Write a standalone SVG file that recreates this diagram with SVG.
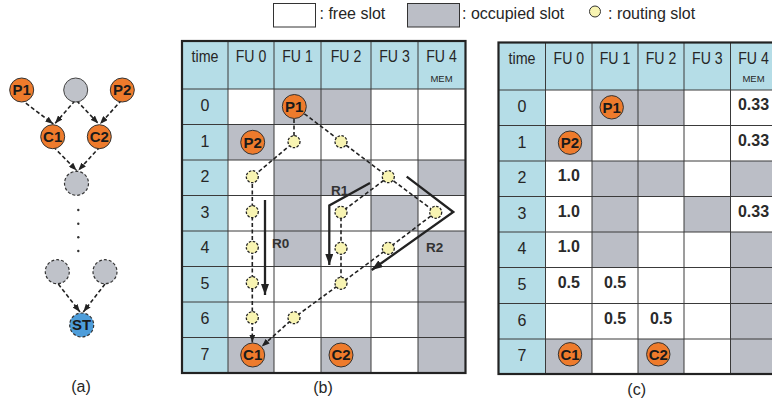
<svg xmlns="http://www.w3.org/2000/svg" width="772" height="406" viewBox="0 0 772 406">
<style>
text{font-family:"Liberation Sans",Arial,sans-serif;fill:#262626}
.hd{font-size:16px;text-anchor:middle}
.mem{font-size:9.5px;text-anchor:middle}
.val{font-size:16px;font-weight:bold;text-anchor:middle;fill:#2a2a2a}
.nl{font-size:15px;font-weight:bold;text-anchor:middle;fill:#1a1a1a}
.rl{font-size:13.5px;font-weight:bold;fill:#333}
.lg{font-size:16px}
.cap{font-size:16px;text-anchor:middle}
.blue{fill:#B5DDE7}
.occ{fill:#BBBEC6}
.grid{stroke:#3a3a3a;stroke-width:1;fill:none}
.border{stroke:#222;stroke-width:2.2;fill:none}
.or{fill:#EE7B2C;stroke:#333;stroke-width:1}
.gr{fill:#BFC2C9;stroke:#444;stroke-width:1}
.grd{fill:#BFC2C9;stroke:#333;stroke-width:1.2;stroke-dasharray:3 2}
.st{fill:#4D9DDA;stroke:#333;stroke-width:1.2;stroke-dasharray:3 2}
.rt{fill:#F8F4B2;stroke:#222;stroke-width:1.3;stroke-dasharray:2.5 1.5}
.dash{fill:none;stroke:#222;stroke-width:1.6;stroke-dasharray:4 2.5}
.rarrow{fill:none;stroke:#222;stroke-width:2.3}
</style>
<defs>
<marker id="ah" viewBox="0 0 8 6" refX="8" refY="3" markerWidth="8" markerHeight="6" markerUnits="userSpaceOnUse" orient="auto"><path d="M0,0 L8,3 L0,6 z" fill="#222"/></marker>
<marker id="ahb" viewBox="0 0 11 8" refX="11" refY="4" markerWidth="11" markerHeight="8" markerUnits="userSpaceOnUse" orient="auto"><path d="M0,0 L11,4 L0,8 z" fill="#222"/></marker>
</defs>
<rect width="772" height="406" fill="#fff"/>

<g id="legend">
<rect x="273.5" y="3.5" width="42" height="23.5" fill="#fff" stroke="#333" stroke-width="1"/>
<text class="lg" x="319.5" y="19">: free slot</text>
<rect x="407.5" y="3.5" width="52" height="23.5" class="occ" stroke="#333" stroke-width="1"/>
<text class="lg" x="462" y="19">: occupied slot</text>
<circle cx="595" cy="11.5" r="5.5" fill="#F8F4B2" stroke="#333" stroke-width="1"/>
<text class="lg" x="608" y="19">: routing slot</text>
</g>

<g id="table-b">
<rect x="182" y="41" width="283.5" height="332" fill="#fff"/>
<rect class="blue" x="182" y="41" width="283.5" height="48"/>
<rect class="blue" x="182" y="89" width="46" height="284"/>
<rect class="occ" x="274" y="89" width="97" height="35.5"/>
<rect class="occ" x="228" y="124.5" width="46" height="35.5"/>
<rect class="occ" x="274" y="160" width="47" height="106.5"/>
<rect class="occ" x="321" y="160" width="50" height="35.5"/>
<rect class="occ" x="418" y="160" width="47.5" height="35.5"/>
<rect class="occ" x="371" y="195.5" width="47" height="35.5"/>
<rect class="occ" x="418" y="231" width="47.5" height="142"/>
<rect class="occ" x="228" y="337.5" width="46" height="35.5"/>
<rect class="occ" x="321" y="337.5" width="50" height="35.5"/>
<path class="grid" d="M228,41V373 M274,41V373 M321,41V373 M371,41V373 M418,41V373 M182,89H465.5 M182,124.5H465.5 M182,160H465.5 M182,195.5H465.5 M182,231H465.5 M182,266.5H465.5 M182,302H465.5 M182,337.5H465.5"/>
<rect class="border" x="182" y="41" width="283.5" height="332"/>
<text class="hd" x="205" y="62" textLength="27" lengthAdjust="spacingAndGlyphs">time</text>
<text class="hd" x="251" y="62" textLength="30.5" lengthAdjust="spacingAndGlyphs">FU 0</text>
<text class="hd" x="297.5" y="62" textLength="30.5" lengthAdjust="spacingAndGlyphs">FU 1</text>
<text class="hd" x="346" y="62" textLength="30.5" lengthAdjust="spacingAndGlyphs">FU 2</text>
<text class="hd" x="394.5" y="62" textLength="30.5" lengthAdjust="spacingAndGlyphs">FU 3</text>
<text class="hd" x="441.5" y="62" textLength="30.5" lengthAdjust="spacingAndGlyphs">FU 4</text>
<text class="mem" x="441.5" y="82">MEM</text>
<text class="hd" x="205" y="111">0</text>
<text class="hd" x="205" y="146.5">1</text>
<text class="hd" x="205" y="182">2</text>
<text class="hd" x="205" y="217.5">3</text>
<text class="hd" x="205" y="253">4</text>
<text class="hd" x="205" y="288.5">5</text>
<text class="hd" x="205" y="324">6</text>
<text class="hd" x="205" y="359.5">7</text>
</g>

<g id="table-c">
<rect x="498.5" y="42.5" width="278.5" height="331.5" fill="#fff"/>
<rect class="blue" x="498.5" y="42.5" width="278.5" height="47.5"/>
<rect class="blue" x="498.5" y="90" width="47" height="284"/>
<rect class="occ" x="592" y="90" width="92" height="35.5"/>
<rect class="occ" x="545.5" y="125.5" width="46.5" height="35.5"/>
<rect class="occ" x="592" y="161" width="46" height="106.5"/>
<rect class="occ" x="638" y="161" width="46" height="35.5"/>
<rect class="occ" x="730.5" y="161" width="46.5" height="35.5"/>
<rect class="occ" x="684" y="196.5" width="46.5" height="35.5"/>
<rect class="occ" x="730.5" y="232" width="46.5" height="142"/>
<rect class="occ" x="545.5" y="339" width="46.5" height="35"/>
<rect class="occ" x="638" y="339" width="46" height="35"/>
<path class="grid" d="M545.5,42.5V374 M592,42.5V374 M638,42.5V374 M684,42.5V374 M730.5,42.5V374 M498.5,90H777 M498.5,125.5H777 M498.5,161H777 M498.5,196.5H777 M498.5,232H777 M498.5,267.5H777 M498.5,303.5H777 M498.5,339H777"/>
<rect class="border" x="498.5" y="42.5" width="278.5" height="331.5"/>
<text class="hd" x="522" y="63.5" textLength="27" lengthAdjust="spacingAndGlyphs">time</text>
<text class="hd" x="568.8" y="63.5" textLength="30.5" lengthAdjust="spacingAndGlyphs">FU 0</text>
<text class="hd" x="615" y="63.5" textLength="30.5" lengthAdjust="spacingAndGlyphs">FU 1</text>
<text class="hd" x="661" y="63.5" textLength="30.5" lengthAdjust="spacingAndGlyphs">FU 2</text>
<text class="hd" x="707.3" y="63.5" textLength="30.5" lengthAdjust="spacingAndGlyphs">FU 3</text>
<text class="hd" x="753.5" y="63.5" textLength="30.5" lengthAdjust="spacingAndGlyphs">FU 4</text>
<text class="mem" x="753.5" y="82">MEM</text>
<text class="hd" x="522" y="112">0</text>
<text class="hd" x="522" y="147.5">1</text>
<text class="hd" x="522" y="183">2</text>
<text class="hd" x="522" y="218.5">3</text>
<text class="hd" x="522" y="254">4</text>
<text class="hd" x="522" y="289.5">5</text>
<text class="hd" x="522" y="325.5">6</text>
<text class="hd" x="522" y="361">7</text>
<text class="val" x="753.5" y="110">0.33</text>
<text class="val" x="753.5" y="145.5">0.33</text>
<text class="val" x="568.8" y="181">1.0</text>
<text class="val" x="568.8" y="216.5">1.0</text>
<text class="val" x="753.5" y="216.5">0.33</text>
<text class="val" x="568.8" y="252">1.0</text>
<text class="val" x="568.8" y="287.5">0.5</text>
<text class="val" x="615" y="287.5">0.5</text>
<text class="val" x="615" y="323.5">0.5</text>
<text class="val" x="661" y="323.5">0.5</text>
</g>

<g id="connectors">
<path class="dash" d="M20.7,99.3 L53.3,124" marker-end="url(#ah)"/>
<path class="dash" d="M75,100.7 L55,123.5" marker-end="url(#ah)"/>
<path class="dash" d="M76.7,100.7 L98.3,123.5" marker-end="url(#ah)"/>
<path class="dash" d="M121.7,100 L100,124" marker-end="url(#ah)"/>
<path class="dash" d="M53.3,146.7 L76.7,170.5" marker-end="url(#ah)"/>
<path class="dash" d="M100,146.7 L78.3,170.5" marker-end="url(#ah)"/>
<path class="dash" d="M58.3,284 L80,312" marker-end="url(#ah)"/>
<path class="dash" d="M105,284 L83.3,312" marker-end="url(#ah)"/>
<path class="dash" d="M294,106 L294,142 L252.3,177 L252.3,342.5" marker-end="url(#ah)"/>
<path class="dash" d="M294,106 L388.3,177 L341,212.3 L341,283.3"/>
<path class="dash" d="M388.3,177 L435.7,212.3 L388.3,248.3 L341,283.3 L294,317.7 L261.7,346.5" marker-end="url(#ah)"/>
<path class="rarrow" d="M265,200 L265,295" marker-end="url(#ahb)"/>
<path class="rarrow" d="M370,183 L329.3,205.5 L329.3,265" marker-end="url(#ahb)"/>
<path class="rarrow" d="M406.7,176.7 L453.3,212 L371.7,270" marker-end="url(#ahb)"/>
</g>

<g id="route-labels">
<text class="rl" x="272" y="248">R0</text>
<text class="rl" x="331" y="194.5">R1</text>
<text class="rl" x="426" y="252">R2</text>
</g>

<g id="graph-a">
<g id="a-P1"><circle class="or" cx="21.7" cy="90" r="12"/><text class="nl" x="21.7" y="95.3">P1</text></g>
<g id="a-top"><circle class="gr" cx="75.7" cy="90" r="12"/></g>
<g id="a-P2"><circle class="or" cx="122.3" cy="90" r="12"/><text class="nl" x="122.3" y="95.3">P2</text></g>
<g id="a-C1"><circle class="or" cx="52.7" cy="136.7" r="12"/><text class="nl" x="52.7" y="142">C1</text></g>
<g id="a-C2"><circle class="or" cx="99.3" cy="136.7" r="12"/><text class="nl" x="99.3" y="142">C2</text></g>
<g id="a-mid"><circle class="grd" cx="76.5" cy="183.3" r="12"/></g>
<g id="a-dots" fill="#333"><circle cx="78.3" cy="210" r="1.2"/><circle cx="78.3" cy="223.7" r="1.2"/><circle cx="78.3" cy="237.3" r="1.2"/><circle cx="78.3" cy="251" r="1.2"/></g>
<g id="a-bl"><circle class="grd" cx="57.3" cy="271.7" r="12"/></g>
<g id="a-br"><circle class="grd" cx="105" cy="271.7" r="12"/></g>
<g id="a-ST"><circle class="st" cx="81.7" cy="325" r="12"/><text class="nl" x="81.7" y="330.3">ST</text></g>
</g>

<g id="b-nodes">
<g id="b-P1"><circle class="or" cx="294.3" cy="106.5" r="12"/><text class="nl" x="294.3" y="111.8">P1</text></g>
<g id="b-P2"><circle class="or" cx="252.7" cy="142.3" r="12"/><text class="nl" x="252.7" y="147.6">P2</text></g>
<g id="b-C1"><circle class="or" cx="252.7" cy="355" r="12"/><text class="nl" x="252.7" y="360.3">C1</text></g>
<g id="b-C2"><circle class="or" cx="341" cy="355" r="12"/><text class="nl" x="341" y="360.3">C2</text></g>
</g>

<g id="routing">
<circle class="rt" cx="294" cy="141.7" r="6"/>
<circle class="rt" cx="341" cy="141.7" r="6"/>
<circle class="rt" cx="388.3" cy="176.7" r="6"/>
<circle class="rt" cx="252.3" cy="176.7" r="6"/>
<circle class="rt" cx="252.3" cy="211.7" r="6"/>
<circle class="rt" cx="252.3" cy="247.3" r="6"/>
<circle class="rt" cx="252.3" cy="282.7" r="6"/>
<circle class="rt" cx="252.3" cy="317.7" r="6"/>
<circle class="rt" cx="341" cy="212.3" r="6"/>
<circle class="rt" cx="435.7" cy="212.3" r="6"/>
<circle class="rt" cx="341" cy="248.3" r="6"/>
<circle class="rt" cx="388.3" cy="248.3" r="6"/>
<circle class="rt" cx="341" cy="283.3" r="6"/>
<circle class="rt" cx="294" cy="317.7" r="6"/>
</g>

<g id="c-nodes">
<g id="c-P1"><circle class="or" cx="611.7" cy="107.3" r="11.7"/><text class="nl" x="611.7" y="112.6">P1</text></g>
<g id="c-P2"><circle class="or" cx="570" cy="142.7" r="11.7"/><text class="nl" x="570" y="148">P2</text></g>
<g id="c-C1"><circle class="or" cx="570" cy="354.3" r="11.7"/><text class="nl" x="570" y="359.6">C1</text></g>
<g id="c-C2"><circle class="or" cx="658.3" cy="354.3" r="11.7"/><text class="nl" x="658.3" y="359.6">C2</text></g>
</g>

<g id="captions">
<text class="cap" x="81" y="392">(a)</text>
<text class="cap" x="323" y="393">(b)</text>
<text class="cap" x="636.7" y="395">(c)</text>
</g>
</svg>
